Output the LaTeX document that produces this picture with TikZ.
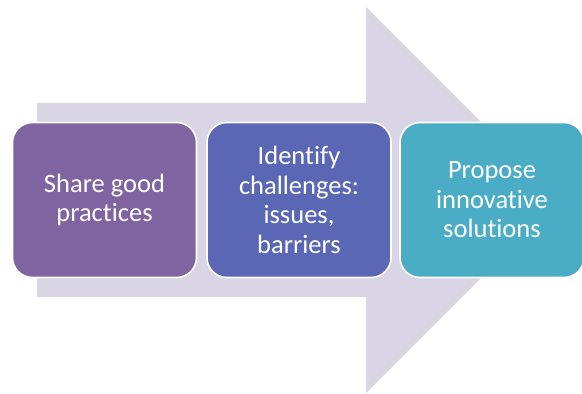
\documentclass[tikz,border=0pt]{standalone}
\usepackage{fontspec}
\setmainfont{Carlito}[Ligatures=NoCommon]
\usepackage{tikz}
\usepackage{color}

\definecolor{arrowgray}{HTML}{D9D5E5}
\definecolor{stepA}{HTML}{8064A2}
\definecolor{stepB}{HTML}{5A67B5}
\definecolor{stepC}{HTML}{4BACC6}

\tikzset{
  stepbox/.style={rounded corners=20pt, draw=white, line width=1.6pt,
    minimum width=184pt, minimum height=155pt, inner sep=4pt,
    text=white, align=center, font=\fontsize{26.5}{29.5}\selectfont}
}

\begin{document}
\begin{tikzpicture}[x=1pt,y=1pt]
\useasboundingbox (0,0) rectangle (582,394);
% big background arrow
\fill[arrowgray] (37,97)--(366,97)--(366,1)--(559,194)--(366,387)--(366,291)--(37,291)--cycle;
% the three steps
\node[stepbox, fill=stepA] (share) at (104.5,194) {Share good\\practices};
\node[stepbox, fill=stepB] (identify) at (299,194) {Identify\\challenges:\\issues,\\barriers};
\node[stepbox, fill=stepC] (propose) at (492,194) {Propose\\innovative\\solutions};
\end{tikzpicture}
\end{document}
